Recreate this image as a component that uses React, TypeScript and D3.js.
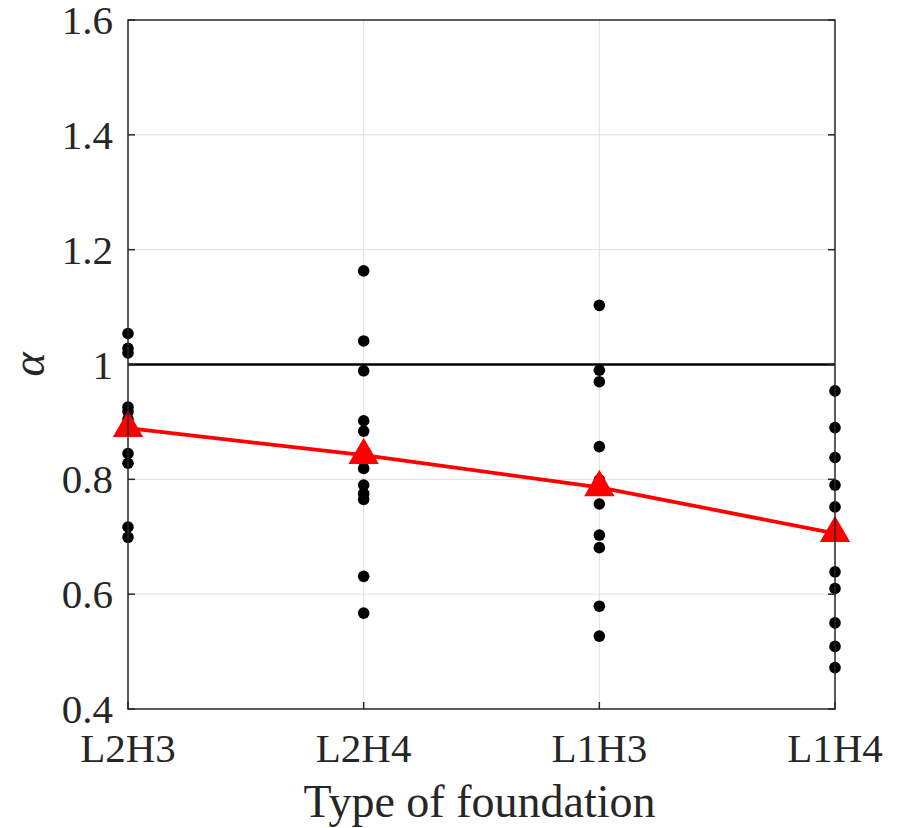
import * as d3 from "d3";
import { useRef, useEffect } from "react";

const categories = ["L2H3", "L2H4", "L1H3", "L1H4"];
const yTicks = [0.4, 0.6, 0.8, 1, 1.2, 1.4, 1.6];

// individual alpha values per foundation type
const l2h3 = [1.054, 1.028, 1.02, 0.926, 0.918, 0.905, 0.845, 0.828, 0.717, 0.699];
const l2h4 = [1.163, 1.041, 0.989, 0.902, 0.884, 0.842, 0.819, 0.79, 0.775, 0.765, 0.631, 0.567];
const l1h3 = [1.103, 0.99, 0.97, 0.857, 0.799, 0.757, 0.703, 0.681, 0.579, 0.527];
const l1h4 = [0.954, 0.89, 0.838, 0.79, 0.752, 0.639, 0.61, 0.55, 0.509, 0.472];
const means = [0.889, 0.842, 0.786, 0.706];

const App = () => {
  const ref = useRef<SVGSVGElement>(null);

  useEffect(() => {
    const svg = d3.select(ref.current);
    svg.selectAll("*").remove();

    const left = 128, right = 835, top = 20, bottom = 709;
    const font = "'Liberation Serif', 'Times New Roman', serif";

    const x = d3.scalePoint().domain(categories).range([left, right]);
    const y = d3.scaleLinear().domain([0.4, 1.6]).range([bottom, top]);

    const grid = svg.append("g");
    grid.selectAll("line.h")
      .data(yTicks.slice(1, -1))
      .join("line")
      .attr("x1", left).attr("x2", right)
      .attr("y1", (d) => y(d)).attr("y2", (d) => y(d))
      .attr("stroke", "#dfdfdf").attr("stroke-width", 1);
    grid.selectAll("line.v")
      .data(categories.slice(1, -1))
      .join("line")
      .attr("x1", (d) => x(d)!).attr("x2", (d) => x(d)!)
      .attr("y1", top).attr("y2", bottom)
      .attr("stroke", "#dfdfdf").attr("stroke-width", 1);

    // reference line at alpha = 1
    svg.append("line")
      .attr("x1", left).attr("x2", right)
      .attr("y1", y(1)).attr("y2", y(1))
      .attr("stroke", "#000").attr("stroke-width", 2.5);

    const groups = [l2h3, l2h4, l1h3, l1h4];
    groups.forEach((vals, i) => {
      svg.append("g")
        .selectAll("circle")
        .data(vals)
        .join("circle")
        .attr("cx", x(categories[i])!)
        .attr("cy", (d) => y(d))
        .attr("r", 5.8)
        .attr("fill", "#000");
    });

    const line = d3.line<number>()
      .x((_, i) => x(categories[i])!)
      .y((d) => y(d));
    svg.append("path")
      .attr("d", line(means))
      .attr("fill", "none")
      .attr("stroke", "#ff0000")
      .attr("stroke-width", 3.8);

    const tri = d3.symbol().type(d3.symbolTriangle).size(400);
    svg.append("g")
      .selectAll("path")
      .data(means)
      .join("path")
      .attr("d", tri)
      .attr("transform", (d, i) => `translate(${x(categories[i])},${y(d)})`)
      .attr("fill", "#ff0000");

    // axes box
    const axisColor = "#262626";
    svg.append("rect")
      .attr("x", left).attr("y", top)
      .attr("width", right - left).attr("height", bottom - top)
      .attr("fill", "none").attr("stroke", axisColor).attr("stroke-width", 1.5);

    const tickLen = 7;
    svg.append("g").selectAll("line")
      .data(yTicks)
      .join("line")
      .attr("x1", left).attr("x2", left + tickLen)
      .attr("y1", (d) => y(d)).attr("y2", (d) => y(d))
      .attr("stroke", axisColor).attr("stroke-width", 1.5);
    svg.append("g").selectAll("line")
      .data(yTicks)
      .join("line")
      .attr("x1", right).attr("x2", right - tickLen)
      .attr("y1", (d) => y(d)).attr("y2", (d) => y(d))
      .attr("stroke", axisColor).attr("stroke-width", 1.5);
    svg.append("g").selectAll("line")
      .data(categories)
      .join("line")
      .attr("x1", (d) => x(d)!).attr("x2", (d) => x(d)!)
      .attr("y1", bottom).attr("y2", bottom - tickLen)
      .attr("stroke", axisColor).attr("stroke-width", 1.5);

    svg.append("g").selectAll("text")
      .data(yTicks)
      .join("text")
      .attr("x", left - 15)
      .attr("y", (d) => y(d) + 14)
      .attr("text-anchor", "end")
      .attr("font-family", font)
      .attr("font-size", 41)
      .attr("fill", axisColor)
      .text((d) => d3.format("~g")(d));

    svg.append("g").selectAll("text")
      .data(categories)
      .join("text")
      .attr("x", (d) => x(d)!)
      .attr("y", 762)
      .attr("text-anchor", "middle")
      .attr("font-family", font)
      .attr("font-size", 41)
      .attr("fill", axisColor)
      .text((d) => d);

    svg.append("text")
      .attr("x", (left + right) / 2 - 2)
      .attr("y", 817)
      .attr("text-anchor", "middle")
      .attr("font-family", font)
      .attr("font-size", 46)
      .attr("fill", axisColor)
      .text("Type of foundation");

    svg.append("text")
      .attr("transform", `translate(44,${y(1)}) rotate(-90)`)
      .attr("text-anchor", "middle")
      .attr("font-family", font)
      .attr("font-style", "italic")
      .attr("font-size", 46)
      .attr("fill", axisColor)
      .text("α");
  }, []);

  return (
    <svg
      ref={ref}
      width={898}
      height={828}
      style={{ position: "absolute", left: 0, top: 0, background: "#fff" }}
    />
  );
};

export default App;
